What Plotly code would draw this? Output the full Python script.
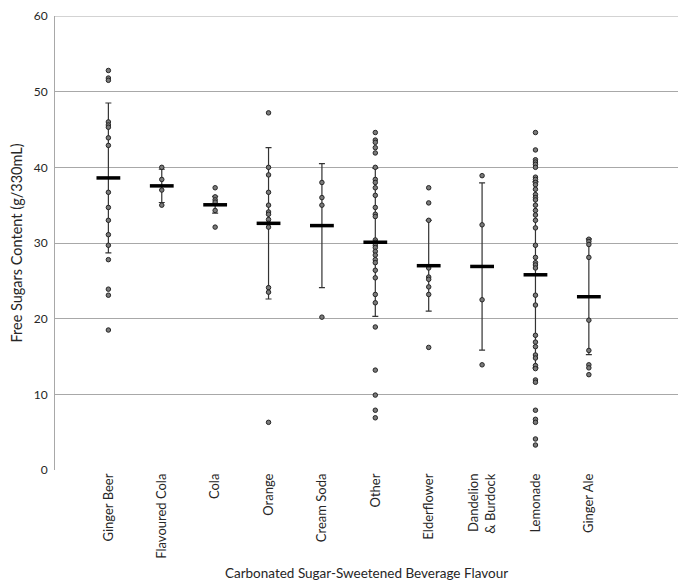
import plotly.graph_objects as go

categories = ["Ginger Beer", "Flavoured Cola", "Cola", "Orange", "Cream Soda", "Other",
              "Elderflower", "Dandelion<br>& Burdock", "Lemonade", "Ginger Ale"]

ginger_beer = [52.8, 51.8, 51.5, 46.0, 45.6, 45.3, 43.9, 42.9, 36.7, 34.7, 33.0, 31.1, 29.7, 27.8, 23.9, 23.1, 18.5]
flavoured_cola = [40.0, 38.4, 37.0, 35.0]
cola = [37.3, 36.1, 35.7, 35.4, 34.3, 32.1]
orange = [47.2, 40.0, 39.0, 36.7, 35.0, 34.1, 33.8, 33.1, 32.6, 32.1, 24.1, 23.5, 6.3]
cream_soda = [38.0, 36.0, 35.0, 20.2]
other = [44.6, 43.6, 43.3, 42.6, 41.9, 40.0, 38.4, 38.0, 37.3, 36.3, 34.7, 33.8, 33.5, 30.4, 30.1,
         29.7, 29.4, 28.9, 28.4, 27.8, 27.4, 26.4, 25.4, 23.2, 22.1, 18.9, 13.2, 9.9, 7.9, 6.9]
elderflower = [37.3, 35.3, 33.0, 26.7, 25.5, 25.2, 24.2, 23.2, 16.2]
dandelion_burdock = [38.9, 32.4, 22.5, 13.9]
lemonade = [44.6, 42.3, 41.0, 40.7, 40.4, 40.0, 38.7, 38.4, 38.0, 37.7, 37.1, 36.4, 36.0, 35.7, 35.0,
            34.3, 33.7, 33.0, 32.0, 29.7, 28.1, 27.4, 27.1, 26.7, 23.1, 21.8, 17.8, 16.9, 16.3, 15.2,
            14.8, 13.8, 13.4, 11.9, 11.6, 7.9, 6.7, 6.3, 4.1, 3.3]
ginger_ale = [30.5, 30.2, 29.8, 28.1, 19.8, 15.8, 13.9, 13.5, 12.6]

series = [ginger_beer, flavoured_cola, cola, orange, cream_soda, other,
          elderflower, dandelion_burdock, lemonade, ginger_ale]

means = [38.6, 37.55, 35.05, 32.6, 32.3, 30.1, 27.0, 26.9, 25.8, 22.9]
sds = [9.9, 2.2, 1.1, 10.0, 8.2, 9.8, 6.0, 11.05, 12.3, 7.65]

y_ticks = [0, 10, 20, 30, 40, 50, 60]

positions = list(range(1, len(categories) + 1))

fig = go.Figure()

xs, ys = [], []
for p, vals in zip(positions, series):
    xs += [p] * len(vals)
    ys += vals

# error bars (drawn under points)
fig.add_trace(go.Scatter(
    x=positions, y=means, mode="markers",
    marker=dict(size=1, color="rgba(0,0,0,0)"),
    error_y=dict(type="data", array=sds, visible=True, color="#333333", thickness=1.2, width=3),
    showlegend=False, hoverinfo="skip"))

fig.add_trace(go.Scatter(
    x=xs, y=ys, mode="markers",
    marker=dict(size=4.5, color="#7a7a7a", line=dict(color="#262626", width=1)),
    showlegend=False))

fig.add_trace(go.Scatter(
    x=positions, y=means, mode="markers",
    marker=dict(symbol="line-ew", size=17, line=dict(color="black", width=3.5)),
    showlegend=False))

fig.update_layout(
    width=690, height=582,
    margin=dict(l=47, r=20, t=8, b=120),
    paper_bgcolor="white", plot_bgcolor="white",
    font=dict(family="Lato, Open Sans, sans-serif", color="#262626"),
    xaxis=dict(
        range=[0, 11.67], tickmode="array", tickvals=positions, ticktext=categories,
        tickangle=-90, tickfont=dict(size=13, color="#262626"),
        showgrid=False, zeroline=False, showline=False, ticks="",
        automargin=False,
        title=dict(text="Carbonated Sugar-Sweetened Beverage Flavour", font=dict(size=13.5), standoff=10),
    ),
    yaxis=dict(
        range=[0, 60], tickmode="array", tickvals=y_ticks,
        tickfont=dict(size=12, color="#262626"), ticklabeloverflow="allow",
        showgrid=True, gridcolor="#a8a8a8", gridwidth=1,
        zeroline=False, showline=True, linecolor="#a8a8a8", linewidth=1, ticks="",
        automargin=False, ticklabelstandoff=4,
        title=dict(text="Free Sugars Content (g/330mL)", font=dict(size=14.5), standoff=8),
    ),
    shapes=[dict(type="line", xref="paper", yref="y", x0=0, x1=1, y0=60, y1=60,
                 line=dict(color="#a8a8a8", width=1), layer="below")],
)

fig.write_html("out.html")
